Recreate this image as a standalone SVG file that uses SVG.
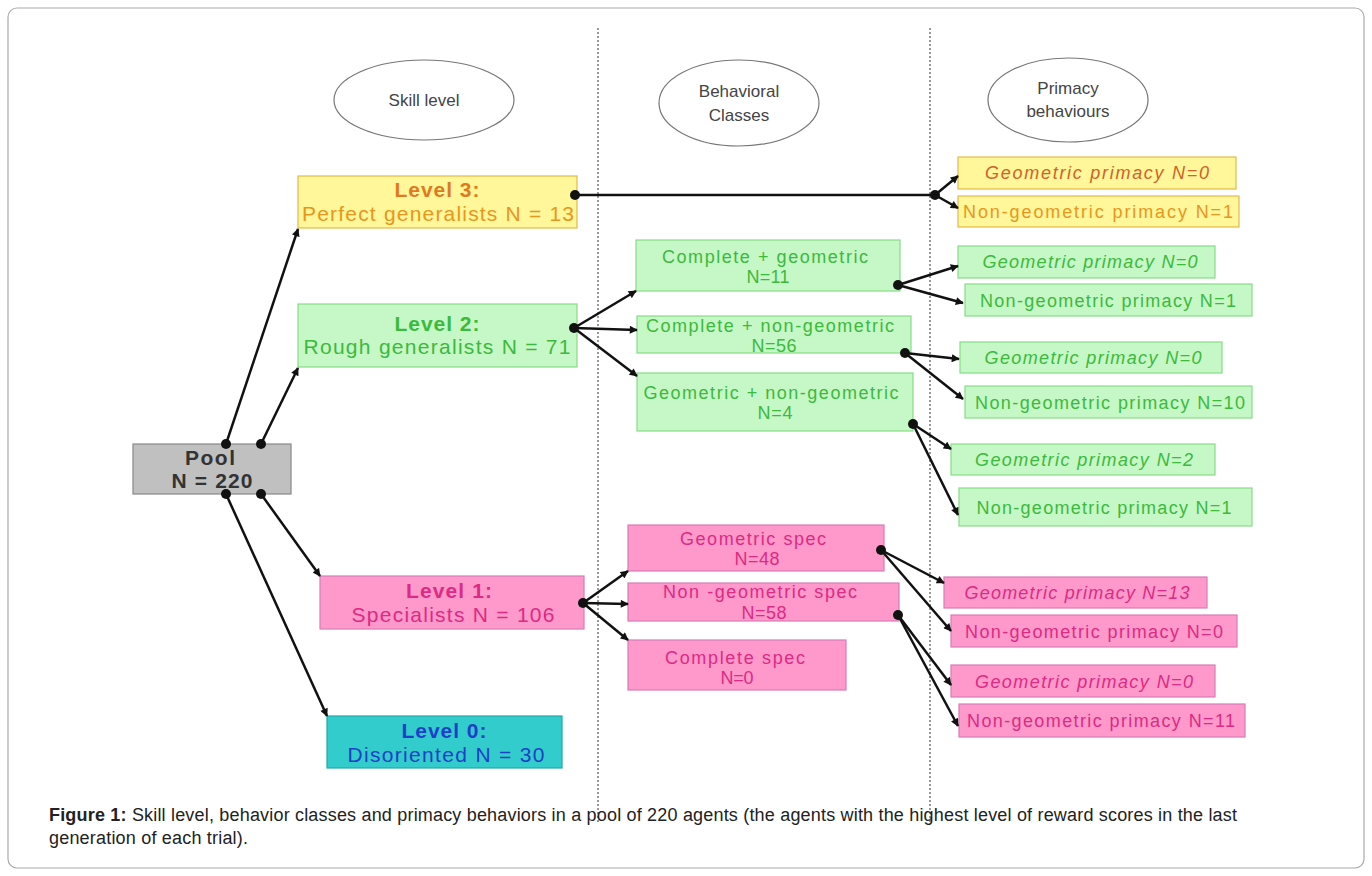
<svg xmlns="http://www.w3.org/2000/svg" width="1372" height="876" viewBox="0 0 1372 876">
<defs>
<marker id="ah" viewBox="0 0 10 10" refX="9" refY="5" markerWidth="3.6" markerHeight="3.2" orient="auto" markerUnits="strokeWidth">
<path d="M0,0 L10,5 L0,10 z" fill="#111"/>
</marker>
<marker id="dot" viewBox="0 0 10 10" refX="5" refY="5" markerWidth="4" markerHeight="4" markerUnits="strokeWidth">
<circle cx="5" cy="5" r="5" fill="#111"/>
</marker>
</defs>
<style>
text{font-family:"Liberation Sans",Arial,sans-serif;text-anchor:middle}
.t{font-size:21px}
.s{font-size:18px}
.b{font-weight:bold}
.i{font-style:italic}
.y{fill:#fff799;stroke:#e6b84a;stroke-width:1.2}
.g{fill:#c6f7c6;stroke:#86dc86;stroke-width:1.2}
.p{fill:#ff99cc;stroke:#d77cb6;stroke-width:1.2}
.gy{fill:#c0c0c0;stroke:#888;stroke-width:1.2}
.c{fill:#33cccc;stroke:#22a8a8;stroke-width:1.2}
.ty{fill:#e8961e}
.tg{fill:#3cba3c}
.tp{fill:#dd2a82}
.tb{fill:#1f3fc8}
.tk{fill:#333}
.el{fill:#fff;stroke:#777;stroke-width:1.2}
.et{font-size:17px;fill:#444}
.cn{stroke:#111;stroke-width:2.5;fill:none;marker-end:url(#ah);marker-start:url(#dot)}
.cn2{stroke:#111;stroke-width:2.5;fill:none;marker-end:url(#ah)}
.vd{stroke:#777;stroke-width:1.5;stroke-dasharray:2,2}
</style>
<rect x="8" y="8" width="1356" height="860" rx="9" fill="#fff" stroke="#aaa" stroke-width="1.2"/>
<line class="vd" x1="598" y1="28" x2="598" y2="822"/>
<line class="vd" x1="930" y1="28" x2="930" y2="822"/>

<g id="hdr-skill"><ellipse class="el" cx="424" cy="100" rx="90" ry="40"/><text class="et" x="424" y="106">Skill level</text></g>
<g id="hdr-classes"><ellipse class="el" cx="739" cy="103" rx="80" ry="43"/><text class="et" x="739" y="97">Behavioral</text><text class="et" x="739" y="121">Classes</text></g>
<g id="hdr-primacy"><ellipse class="el" cx="1068" cy="100" rx="80" ry="42"/><text class="et" x="1068" y="94">Primacy</text><text class="et" x="1068" y="117">behaviours</text></g>

<g id="pool"><rect class="gy" x="133" y="444" width="158" height="50"/><text class="t b tk" x="210" y="465" textLength="50">Pool</text><text class="t b tk" x="212" y="488" textLength="81">N = 220</text></g>
<g id="level3"><rect class="y" x="298" y="176" width="279" height="52"/><text class="t b" x="437" y="197" textLength="85" style="fill:#e07a1e">Level 3:</text><text class="t ty" x="438" y="221" textLength="272">Perfect generalists N = 13</text></g>
<g id="level2"><rect class="g" x="298" y="304" width="279" height="63"/><text class="t b tg" x="437" y="331" textLength="85">Level 2:</text><text class="t tg" x="437" y="354" textLength="267">Rough generalists N = 71</text></g>
<g id="level1"><rect class="p" x="320" y="576" width="264" height="53"/><text class="t b tp" x="449" y="598" textLength="86">Level 1:</text><text class="t tp" x="453" y="622" textLength="203">Specialists N = 106</text></g>
<g id="level0"><rect class="c" x="327" y="716" width="235" height="52"/><text class="t b tb" x="444" y="738" textLength="85">Level 0:</text><text class="t tb" x="446" y="762" textLength="197">Disoriented N = 30</text></g>

<g id="cls-cg"><rect class="g" x="636" y="240" width="264" height="51"/><text class="s tg" x="765" y="263" textLength="206">Complete + geometric</text><text class="s tg" x="768" y="283" textLength="43">N=11</text></g>
<g id="cls-cn"><rect class="g" x="637" y="316" width="274" height="37"/><text class="s tg" x="770" y="332" textLength="248">Complete + non-geometric</text><text class="s tg" x="774" y="352" textLength="45">N=56</text></g>
<g id="cls-gn"><rect class="g" x="637" y="373" width="276" height="58"/><text class="s tg" x="771" y="399" textLength="255">Geometric + non-geometric</text><text class="s tg" x="775" y="419" textLength="35">N=4</text></g>
<g id="cls-gs"><rect class="p" x="628" y="525" width="256" height="46"/><text class="s tp" x="753" y="545" textLength="146">Geometric spec</text><text class="s tp" x="757" y="565" textLength="45">N=48</text></g>
<g id="cls-ns"><rect class="p" x="628" y="583" width="271" height="38"/><text class="s tp" x="760" y="598" textLength="194">Non -geometric spec</text><text class="s tp" x="764" y="619" textLength="45">N=58</text></g>
<g id="cls-cs"><rect class="p" x="628" y="640" width="218" height="50"/><text class="s tp" x="735" y="664" textLength="140">Complete spec</text><text class="s tp" x="737" y="684" textLength="33">N=0</text></g>

<g id="pr-y1"><rect class="y" x="958" y="157" width="278" height="32"/><text class="s i" x="1097" y="179" textLength="224" style="fill:#d0622a">Geometric primacy  N=0</text></g>
<g id="pr-y2"><rect class="y" x="958" y="196" width="281" height="31"/><text class="s ty" x="1098" y="218" textLength="270">Non-geometric primacy  N=1</text></g>
<g id="pr-g1"><rect class="g" x="958" y="246" width="257" height="32"/><text class="s i tg" x="1090" y="268" textLength="215">Geometric primacy N=0</text></g>
<g id="pr-g2"><rect class="g" x="965" y="284" width="287" height="32"/><text class="s tg" x="1108" y="307" textLength="256">Non-geometric primacy N=1</text></g>
<g id="pr-g3"><rect class="g" x="960" y="342" width="262" height="31"/><text class="s i tg" x="1093" y="364" textLength="217">Geometric primacy N=0</text></g>
<g id="pr-g4"><rect class="g" x="965" y="386" width="287" height="32"/><text class="s tg" x="1110" y="409" textLength="270">Non-geometric primacy N=10</text></g>
<g id="pr-g5"><rect class="g" x="951" y="444" width="264" height="31"/><text class="s i tg" x="1084" y="466" textLength="218">Geometric primacy N=2</text></g>
<g id="pr-g6"><rect class="g" x="959" y="488" width="293" height="38"/><text class="s tg" x="1104" y="514" textLength="255">Non-geometric primacy N=1</text></g>
<g id="pr-p1"><rect class="p" x="944" y="577" width="263" height="31"/><text class="s i tp" x="1077" y="599" textLength="225">Geometric primacy N=13</text></g>
<g id="pr-p2"><rect class="p" x="951" y="615" width="286" height="32"/><text class="s tp" x="1094" y="638" textLength="258">Non-geometric primacy N=0</text></g>
<g id="pr-p3"><rect class="p" x="951" y="665" width="264" height="32"/><text class="s i tp" x="1084" y="688" textLength="218">Geometric primacy N=0</text></g>
<g id="pr-p4"><rect class="p" x="959" y="704" width="286" height="33"/><text class="s tp" x="1101" y="727" textLength="268">Non-geometric primacy N=11</text></g>

<g id="connectors">
<line class="cn" x1="226" y1="444" x2="298" y2="229"/>
<line class="cn" x1="261" y1="444" x2="298" y2="368"/>
<line class="cn" x1="261" y1="494" x2="320" y2="576"/>
<line class="cn" x1="226" y1="494" x2="327" y2="716"/>
<line class="cn" x1="575" y1="195" x2="935" y2="195" style="marker-end:url(#dot)"/>
<line class="cn2" x1="935" y1="195" x2="958" y2="176"/>
<line class="cn2" x1="935" y1="195" x2="958" y2="208"/>
<line class="cn" x1="574" y1="328" x2="636" y2="291"/>
<line class="cn2" x1="574" y1="328" x2="637" y2="330"/>
<line class="cn2" x1="574" y1="328" x2="637" y2="376"/>
<line class="cn" x1="898" y1="285" x2="958" y2="266"/>
<line class="cn2" x1="898" y1="285" x2="963" y2="303"/>
<line class="cn" x1="905" y1="353" x2="959" y2="359"/>
<line class="cn2" x1="905" y1="353" x2="963" y2="399"/>
<line class="cn" x1="913" y1="424" x2="951" y2="449"/>
<line class="cn2" x1="913" y1="424" x2="958" y2="515"/>
<line class="cn" x1="583" y1="603" x2="628" y2="571"/>
<line class="cn2" x1="583" y1="603" x2="628" y2="604"/>
<line class="cn2" x1="583" y1="603" x2="628" y2="640"/>
<line class="cn" x1="881" y1="550" x2="944" y2="583"/>
<line class="cn2" x1="881" y1="550" x2="951" y2="631"/>
<line class="cn" x1="898" y1="615" x2="951" y2="685"/>
<line class="cn2" x1="898" y1="615" x2="958" y2="726"/>
</g>

<g id="caption">
<text x="49" y="821" textLength="1188" style="text-anchor:start;font-size:18px;fill:#222"><tspan font-weight="bold">Figure 1:</tspan> Skill level, behavior classes and primacy behaviors in a pool of 220 agents (the agents with the highest level of reward scores in the last</text>
<text x="49" y="844" textLength="199" style="text-anchor:start;font-size:18px;fill:#222">generation of each trial).</text>
</g>
</svg>
